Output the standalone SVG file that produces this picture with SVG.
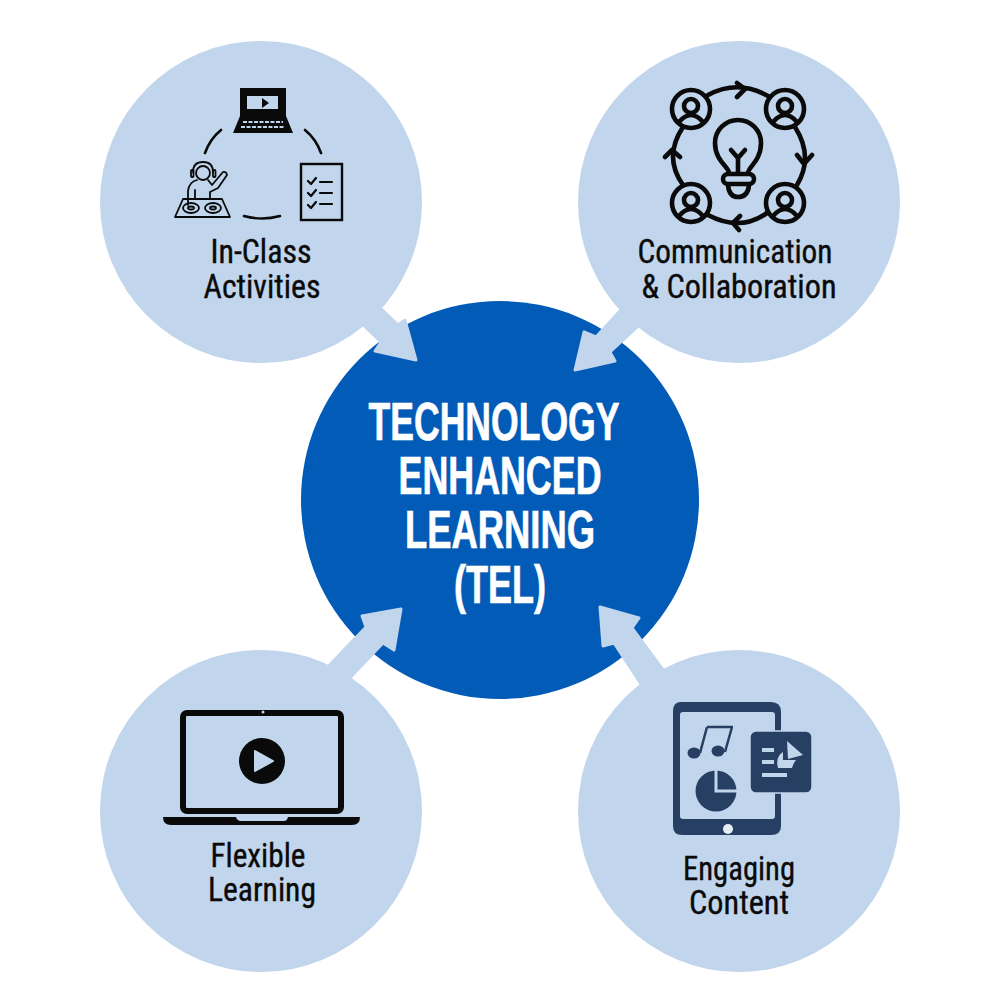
<svg xmlns="http://www.w3.org/2000/svg" width="1000" height="1000" viewBox="0 0 1000 1000">
<style>
.sat{fill:#c1d5ec}
.lab{font-family:"Liberation Sans Narrow","Roboto Condensed","Liberation Sans",sans-serif;font-size:33px;fill:#0a0a0a;stroke:#0a0a0a;stroke-width:.35;text-anchor:middle}
.ttl{font-family:"Liberation Sans Narrow","Liberation Sans",sans-serif;font-weight:700;font-size:53px;fill:#fff;stroke:#fff;stroke-width:.7;text-anchor:middle}
.ln{fill:none;stroke:#0a0a0a;stroke-linecap:round;stroke-linejoin:round}
.dk{fill:#263f63}
</style>
<g id="in-class">
<circle class="sat" cx="261" cy="202" r="161"/>
<path d="M240 88H286V117H240Z" fill="#0a0a0a"/><rect x="247" y="96" width="31" height="13" fill="#c1d5ec"/><path d="M262 98l7 5-7 5Z" fill="#0a0a0a"/>
<path d="M240 116H286L293 133H233Z" fill="#0a0a0a"/><path d="M243 122H283M241 127H285" stroke="#c1d5ec" stroke-width="2" stroke-dasharray="4 1.5"/>
<path class="ln" stroke-width="2.6" d="M221 130Q210 139 205 153M305 130Q316 139 321 153M244 216Q262 221 280 216"/>
<rect x="301" y="164" width="41" height="56" fill="none" stroke="#0a0a0a" stroke-width="2.4"/>
<path class="ln" stroke-width="2.2" d="M308 181l3 3 5-6M308 193l3 3 5-6M308 205l3 3 5-6"/>
<path class="ln" stroke-width="2.2" d="M320 182H332M320 193H332M320 204H332"/>
<g class="ln" stroke-width="1.8">
<path d="M175 217L183 199H222L230 217Z"/>
<path d="M188 205V191Q189 182 197 180M208 180L212 185L223 172Q226 171 227 175L218 188L210 192V199M195 198V190"/>
<circle cx="203" cy="173" r="7"/><path d="M193 172Q193 162 203 162Q213 162 213 172"/>
<rect x="191" y="170" width="2.5" height="7" rx="1"/><rect x="213" y="170" width="2.5" height="7" rx="1"/>
<ellipse cx="191" cy="208" rx="8" ry="5"/><ellipse cx="191" cy="208" rx="3" ry="1.5"/>
<ellipse cx="213" cy="208" rx="8" ry="5"/><ellipse cx="213" cy="208" rx="3" ry="1.5"/>
</g>
<text class="lab" x="261" y="263" textLength="101" lengthAdjust="spacingAndGlyphs">In-Class</text>
<text class="lab" x="262" y="298" textLength="117" lengthAdjust="spacingAndGlyphs">Activities</text>
</g>
<g id="communication">
<circle class="sat" cx="739" cy="202" r="161"/>
<g class="ln" stroke-width="4.6">
<circle cx="691" cy="109" r="19"/><circle cx="785" cy="109" r="19"/><circle cx="691" cy="203" r="19"/><circle cx="785" cy="203" r="19"/>
<circle cx="691" cy="106" r="7"/><circle cx="785" cy="106" r="7"/><circle cx="691" cy="200" r="7"/><circle cx="785" cy="200" r="7"/>
<path d="M679 122Q691 108 703 122M773 122Q785 108 797 122M679 216Q691 202 703 216M773 216Q785 202 797 216"/>
<path d="M708 95Q738 79 768 96M795 127Q814 157 797 185M767 213Q740 232 708 215M683 127Q663 157 683 185"/>
<path d="M737 83L745 89L737 97M797 155L804 164L812 155M740 216L733 223L739 230M665 157L672 150L680 157"/>
<path d="M729 173C729 167 715 161 715 143A23 23 0 1 1 761 143C761 161 748 167 748 173M738 173V158L731 150M738 158L745 150"/>
<rect x="723" y="174" width="31" height="10" rx="5"/><path d="M728 185Q729 197 738 197Q748 197 749 185"/>
</g>
<text class="lab" x="735" y="263" textLength="195" lengthAdjust="spacingAndGlyphs">Communication</text>
<text class="lab" x="739" y="298" textLength="195" lengthAdjust="spacingAndGlyphs">&amp; Collaboration</text>
</g>
<g id="flexible">
<circle class="sat" cx="261" cy="811" r="161"/>
<rect x="183" y="713" width="158" height="98" rx="4" fill="none" stroke="#0a0a0a" stroke-width="6"/>
<circle cx="263" cy="712" r="1.5" fill="#c1d5ec"/>
<circle cx="262" cy="761" r="23" fill="#0a0a0a"/><path d="M255 751L273 761L255 771Z" fill="#c1d5ec" stroke="#c1d5ec" stroke-linejoin="round" stroke-width="2"/>
<path d="M163 817H236Q237 821 241 821H284Q287 821 288 817H360Q360 825 352 825H171Q163 825 163 817Z" fill="#0a0a0a"/>
<text class="lab" x="258" y="867" textLength="95" lengthAdjust="spacingAndGlyphs">Flexible</text>
<text class="lab" x="262" y="901" textLength="108" lengthAdjust="spacingAndGlyphs">Learning</text>
</g>
<g id="engaging">
<circle class="sat" cx="739" cy="811" r="161"/>
<path d="M681 702H771Q781 702 781 712V826Q781 835 771 835H682Q673 835 673 826V711Q673 702 681 702Z" class="dk"/>
<rect x="680" y="712" width="95" height="107" rx="3" class="sat"/>
<circle cx="728" cy="829" r="5" fill="#e6edf6"/>
<rect x="750" y="731" width="62" height="62" rx="6" class="dk" stroke="#c1d5ec" stroke-width="1.5"/>
<path d="M707 727H733M707 727L700 753M732 727L725 752" fill="none" stroke="#263f63" stroke-width="2.5"/>
<ellipse cx="694" cy="753" rx="6.5" ry="5.5" class="dk"/><ellipse cx="718" cy="751" rx="6.5" ry="5.5" class="dk"/>
<circle cx="716" cy="791" r="20.5" class="dk"/>
<path d="M716 770V791H737" fill="none" stroke="#c1d5ec" stroke-width="3"/>
<path d="M762 750H774M762 762H774M762 775H787" stroke="#c1d5ec" stroke-width="4"/>
<path d="M787 741L803 755L788 759Z" fill="#c1d5ec"/><path d="M783 752V760H796Q793 764 792 768H778Q775 757 783 752Z" fill="#c1d5ec"/>
<text class="lab" x="739" y="880" textLength="112" lengthAdjust="spacingAndGlyphs">Engaging</text>
<text class="lab" x="739" y="914" textLength="100" lengthAdjust="spacingAndGlyphs">Content</text>
</g>
<g id="center">
<circle cx="500" cy="500" r="199" fill="#035bb8"/>
<text class="ttl" x="494" y="440" textLength="251" lengthAdjust="spacingAndGlyphs">TECHNOLOGY</text>
<text class="ttl" x="500" y="494" textLength="203" lengthAdjust="spacingAndGlyphs">ENHANCED</text>
<text class="ttl" x="500" y="548" textLength="190" lengthAdjust="spacingAndGlyphs">LEARNING</text>
<text class="ttl" x="500" y="603" textLength="92" lengthAdjust="spacingAndGlyphs">(TEL)</text>
</g>
<g id="connectors" fill="#c1d5ec" stroke="#c1d5ec" stroke-width="3" stroke-linejoin="round">
<path d="M372 300L398 325L405 320L416 360L375 351L381 342L355 317Z"/>
<path d="M596 337L631 299L647 318L610 352L615 361L575 370L584 332Z"/>
<path d="M366 627L362 616L401 609L394 650L383 643L344 684L322 673Z"/>
<path d="M632 628L639 618L600 607L603 646L614 643L647 693L669 678Z"/>
</g>
</svg>
